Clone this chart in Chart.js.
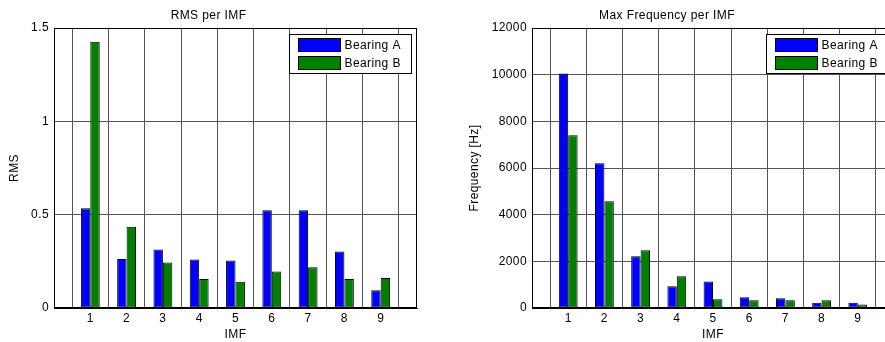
<!DOCTYPE html>
<html>
<head>
<meta charset="utf-8">
<script src="https://cdn.jsdelivr.net/npm/chart.js@4/dist/chart.umd.min.js"></script>
<style>
  html, body { margin: 0; padding: 0; background: #fff; overflow: hidden; width: 885px; height: 342px; }
  #wrap { position: relative; width: 885px; height: 342px; overflow: hidden; }
  .panel { position: absolute; top: 0; height: 342px; }
  #p1 { left: 0; width: 440px; }
  #p2 { left: 440px; width: 477px; }
</style>
</head>
<body>
<div id="wrap">
  <div class="panel" id="p1"><canvas id="c1"></canvas></div>
  <div class="panel" id="p2"><canvas id="c2"></canvas></div>
</div>
<script>
// IMF index on the x axis
const imf = [1, 2, 3, 4, 5, 6, 7, 8, 9];
const seriesNames = ['Bearing A', 'Bearing B'];

// RMS of each IMF
const rmsA = [0.534, 0.263, 0.314, 0.260, 0.255, 0.523, 0.523, 0.303, 0.095];
const rmsB = [1.427, 0.435, 0.244, 0.156, 0.140, 0.195, 0.218, 0.156, 0.161];

// Maximum frequency of each IMF [Hz]
const freqA = [10050, 6200, 2220, 930, 1135, 460, 415, 230, 230];
const freqB = [7400, 4580, 2470, 1360, 375, 330, 330, 330, 145];

const FONT = 'Liberation Sans, Arial, Helvetica, sans-serif';
const SPACING = '0.4px';
const colors = ['#0000ff', '#008000'];

// slightly spaced lettering for all canvas text
const spacingPlugin = {
  id: 'spacing',
  beforeUpdate(chart) { chart.ctx.letterSpacing = SPACING; },
  beforeDraw(chart) { chart.ctx.letterSpacing = SPACING; }
};

// closed box around the plot area
const framePlugin = {
  id: 'frame',
  afterDraw(chart) {
    const { ctx, chartArea: a } = chart;
    ctx.save();
    ctx.strokeStyle = '#000';
    ctx.lineWidth = 1;
    const l = Math.round(a.left) + 0.5, t = Math.round(a.top) + 0.5;
    const r = Math.round(a.right) - 0.5, b = Math.round(a.bottom) - 0.5;
    ctx.strokeRect(l, t, r - l, b - t);
    ctx.restore();
  }
};

// legend drawn in the upper-right corner inside the axes
const boxLegend = {
  id: 'boxLegend',
  afterDraw(chart) {
    const { ctx, chartArea: a } = chart;
    const w = 122, h = 39;
    const x = Math.round(a.right - 6 - w) + 0.5, y = Math.round(a.top + 6) + 0.5;
    ctx.save();
    ctx.letterSpacing = SPACING;
    ctx.fillStyle = '#fff';
    ctx.fillRect(x, y, w, h);
    ctx.strokeStyle = '#000';
    ctx.lineWidth = 1;
    ctx.strokeRect(x, y, w, h);
    chart.data.datasets.forEach((ds, i) => {
      const sy = y + 4 + i * 18;
      ctx.fillStyle = ds.backgroundColor;
      ctx.fillRect(x + 9, sy, 42, 13);
      ctx.strokeRect(x + 9, sy, 42, 13);
      ctx.fillStyle = '#000';
      ctx.font = '12px ' + FONT;
      ctx.textBaseline = 'middle';
      ctx.textAlign = 'left';
      ctx.fillText(ds.label, x + 55, sy + 7);
    });
    ctx.restore();
  }
};

function makeChart(canvasId, title, yTitle, valsA, valsB, yMax, yStep, yWidth, yTitlePad) {
  const datasets = [valsA, valsB].map((vals, k) => ({
    label: seriesNames[k],
    data: imf.map((c, i) => ({ x: c, y: vals[i] })),
    backgroundColor: colors[k],
    borderColor: '#000',
    borderWidth: 1,
    borderSkipped: false,
    categoryPercentage: 0.52,
    barPercentage: 1.0
  }));
  return new Chart(document.getElementById(canvasId), {
    type: 'bar',
    data: { datasets },
    options: {
      responsive: true,
      maintainAspectRatio: false,
      animation: false,
      devicePixelRatio: 1,
      layout: { padding: { left: 0, top: 0, right: 23, bottom: 0 } },
      plugins: {
        legend: { display: false },
        tooltip: { enabled: false },
        title: {
          display: true,
          text: title,
          color: '#000',
          font: { family: FONT, size: 12, weight: 'normal' },
          padding: { top: 8.8, bottom: 4.8 }
        }
      },
      scales: {
        x: {
          type: 'linear',
          min: 0,
          max: 10,
          offset: false,
          afterFit(s) { s.height = 34; },
          ticks: {
            stepSize: 1,
            color: '#000',
            padding: 3.8,
            maxRotation: 0,
            autoSkip: false,
            font: { family: FONT, size: 12 },
            callback: v => (imf.includes(v) ? String(v) : '')
          },
          grid: { color: '#555', lineWidth: 1, drawTicks: false },
          border: { display: true, color: '#000' },
          title: {
            display: true,
            text: 'IMF',
            color: '#000',
            font: { family: FONT, size: 12 },
            padding: { top: 2, bottom: 0 }
          }
        },
        y: {
          min: 0,
          max: yMax,
          afterFit(s) { s.width = yWidth; },
          ticks: {
            stepSize: yStep,
            color: '#000',
            padding: 5,
            font: { family: FONT, size: 12 },
            callback: v => String(v)
          },
          grid: { color: '#555', lineWidth: 1, drawTicks: false },
          border: { display: true, color: '#000' },
          title: {
            display: true,
            text: yTitle,
            color: '#000',
            font: { family: FONT, size: 12 },
            padding: { top: yTitlePad, bottom: 0 }
          }
        }
      }
    },
    plugins: [spacingPlugin, framePlugin, boxLegend]
  });
}

makeChart('c1', 'RMS per IMF', 'RMS', rmsA, rmsB, 1.5, 0.5, 54, 7.8);
makeChart('c2', 'Max Frequency per IMF', 'Frequency [Hz]', freqA, freqB, 12000, 2000, 92, 27.8);
</script>
</body>
</html>
